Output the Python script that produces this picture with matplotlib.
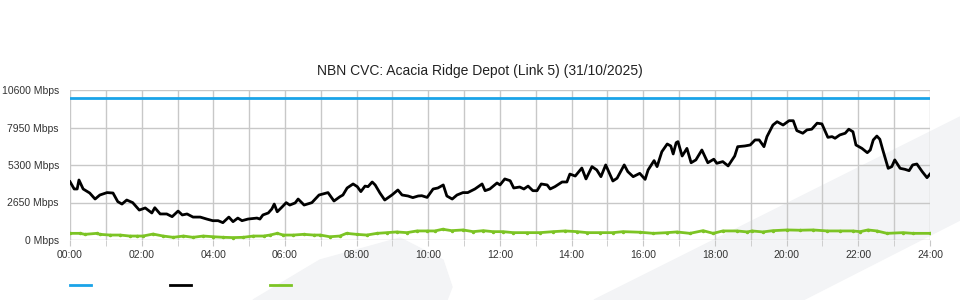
import matplotlib.pyplot as plt
from matplotlib.lines import Line2D
from matplotlib.patches import Polygon
from matplotlib.ticker import MultipleLocator, FuncFormatter

plt.rcParams["font.family"] = ["Liberation Sans", "DejaVu Sans"]

# minutes since midnight and Mbps values
used_min = [
    0, 7, 12, 15, 22, 33, 42, 50, 62, 72,
    80, 87, 95, 105, 116, 126, 137, 142, 151, 162,
    171, 181, 188, 196, 206, 218, 229, 239, 248, 256,
    266, 273, 281, 288, 298, 313, 318, 323, 332, 338,
    342, 347, 355, 362, 368, 377, 382, 392, 405, 417,
    432, 442, 452, 457, 464, 474, 481, 487, 494, 499,
    506, 511, 519, 527, 539, 549, 556, 566, 574, 583,
    589, 598, 608, 616, 625, 631, 640, 648, 658, 666,
    678, 690, 695, 703, 715, 720, 728, 737, 743, 753,
    760, 767, 775, 782, 789, 799, 804, 812, 824, 832,
    837, 846, 857, 864, 874, 882, 889, 897, 909, 916,
    928, 934, 943, 954, 963, 968, 978, 983, 991, 1000,
    1006, 1010, 1015, 1018, 1025, 1033, 1040, 1048, 1058, 1068,
    1078, 1083, 1093, 1102, 1113, 1118, 1130, 1139, 1147, 1154,
    1162, 1167, 1177, 1184, 1194, 1204, 1211, 1217, 1227, 1234,
    1242, 1251, 1259, 1269, 1276, 1281, 1289, 1298, 1304, 1311,
    1316, 1326, 1335, 1340, 1345, 1351, 1356, 1361, 1370, 1376,
    1381, 1390, 1398, 1405, 1411, 1418, 1427, 1435, 1440,
]
used_mbps = [
    4120, 3605, 3605, 4240, 3605, 3320, 2895, 3180, 3350, 3320,
    2710, 2540, 2825, 2640, 2115, 2265, 1910, 2280, 1840, 1840,
    1650, 2045, 1770, 1840, 1620, 1620, 1480, 1365, 1365, 1225,
    1620, 1295, 1550, 1365, 1480, 1550, 1480, 1770, 1910, 2195,
    2540, 1995, 2330, 2640, 2470, 2620, 2895, 2470, 2640, 3180,
    3350, 2755, 3060, 3180, 3675, 3960, 3770, 3420, 3810, 3770,
    4100, 3890, 3320, 2825, 3180, 3535, 3180, 3110, 2995, 3110,
    3130, 3010, 3605, 3675, 3890, 3110, 2895, 3180, 3350, 3350,
    3605, 3960, 3485, 3605, 4030, 3890, 4315, 4190, 3675, 3745,
    3605, 3810, 3485, 3485, 3960, 3890, 3605, 3770, 4100, 4100,
    4660, 4520, 5085, 4315, 5185, 4950, 4475, 5305, 4170, 4365,
    5305, 4830, 4475, 4710, 4285, 4950, 5610, 5185, 6240, 6785,
    6645, 6080, 6880, 6950, 5935, 6475, 5460, 5660, 6360, 5460,
    5710, 5420, 5540, 5235, 5935, 6595, 6645, 6715, 7070, 7070,
    6595, 7305, 8125, 8360, 8125, 8430, 8430, 7730, 7545, 7780,
    7830, 8255, 8205, 7255, 7305, 7190, 7425, 7545, 7830, 7650,
    6715, 6475, 6170, 6360, 7070, 7345, 7120, 6360, 5065, 5185,
    5660, 5065, 4995, 4900, 5305, 5370, 4830, 4405, 4660,
]

low_min = [
    0, 17, 25, 45, 50, 67, 84, 100, 112, 122,
    139, 156, 173, 190, 206, 223, 240, 257, 273, 290,
    307, 324, 335, 347, 357, 374, 391, 408, 419, 435,
    452, 463, 480, 497, 514, 531, 547, 564, 581, 598,
    611, 624, 639, 658, 675, 692, 708, 725, 742, 765,
    787, 809, 829, 849, 866, 887, 909, 926, 954, 977,
    1000, 1016, 1038, 1060, 1077, 1093, 1117, 1134, 1142, 1160,
    1177, 1201, 1222, 1244, 1268, 1289, 1311, 1323, 1336, 1351,
    1368, 1395, 1411, 1440,
]
low_mbps = [
    470, 470, 400, 470, 400, 350, 350, 280, 280, 280,
    420, 280, 190, 280, 190, 280, 230, 190, 170, 190,
    280, 280, 350, 470, 350, 350, 400, 350, 350, 230,
    280, 470, 400, 350, 470, 520, 570, 520, 640, 640,
    640, 760, 660, 710, 590, 660, 590, 590, 520, 520,
    520, 590, 640, 590, 520, 520, 520, 590, 550, 470,
    520, 570, 470, 660, 470, 640, 640, 570, 640, 570,
    660, 710, 690, 710, 640, 640, 640, 590, 710, 640,
    470, 520, 470, 470,
]

cap_min = [0, 1440]
cap_mbps = [10000, 10000]

y_ticks = [0, 2650, 5300, 7950, 10600]
title = "NBN CVC: Acacia Ridge Depot (Link 5) (31/10/2025)"

fig = plt.figure(figsize=(9.6, 3.0), dpi=100)

# faint watermark shapes in the background
fig.add_artist(Polygon([(253 / 960, 0), (320 / 960, 40 / 300), (400 / 960, 62 / 300),
                        (443 / 960, 40 / 300), (452 / 960, 13 / 300), (447 / 960, 0)],
                       closed=True, transform=fig.transFigure, color="#f3f4f6", zorder=0))
fig.add_artist(Polygon([(594 / 960, 0), (1, 183 / 300), (1, 80 / 300), (803 / 960, 0)],
                       closed=True, transform=fig.transFigure, color="#f3f4f6", zorder=0))

ax = fig.add_axes([70 / 960, 60 / 300, 860 / 960, 150 / 300])
ax.patch.set_alpha(0)

ax.plot([m / 60 for m in cap_min], cap_mbps, color="#1aa3e8", lw=2, zorder=3)
ax.plot([m / 60 for m in used_min], used_mbps, color="black", lw=2, zorder=4)
ax.plot([m / 60 for m in low_min], low_mbps, color="#7cc424", lw=2,
        marker="o", ms=1.5, zorder=3)

ax.set_xlim(0, 24)
ax.set_ylim(0, 10600)
ax.xaxis.set_major_locator(MultipleLocator(2))
ax.xaxis.set_minor_locator(MultipleLocator(1))
ax.xaxis.set_major_formatter(FuncFormatter(lambda v, p: f"{int(v):02d}:00"))
ax.set_yticks(y_ticks)
ax.set_yticklabels([f"{v} Mbps" for v in y_ticks])

for s in ax.spines.values():
    s.set_visible(False)
ax.grid(True, which="both", color="#c8c8c8", lw=1)
ax.tick_params(axis="x", which="both", length=4, color="#c8c8c8", pad=3,
               labelsize=7.5, labelcolor="#333333")
ax.tick_params(axis="y", length=0, pad=8, labelsize=7.5, labelcolor="#333333")

fig.text(0.5, 1 - 71 / 300, title, ha="center", va="center", fontsize=10, color="#222222")

# legend swatches (no labels in the original)
for x0, c in [(70, "#1aa3e8"), (170, "black"), (270, "#7cc424")]:
    fig.add_artist(Line2D([x0 / 960, (x0 + 21) / 960], [15 / 300, 15 / 300],
                          transform=fig.transFigure, color=c, lw=2))

fig.savefig("out.png", dpi=100)
